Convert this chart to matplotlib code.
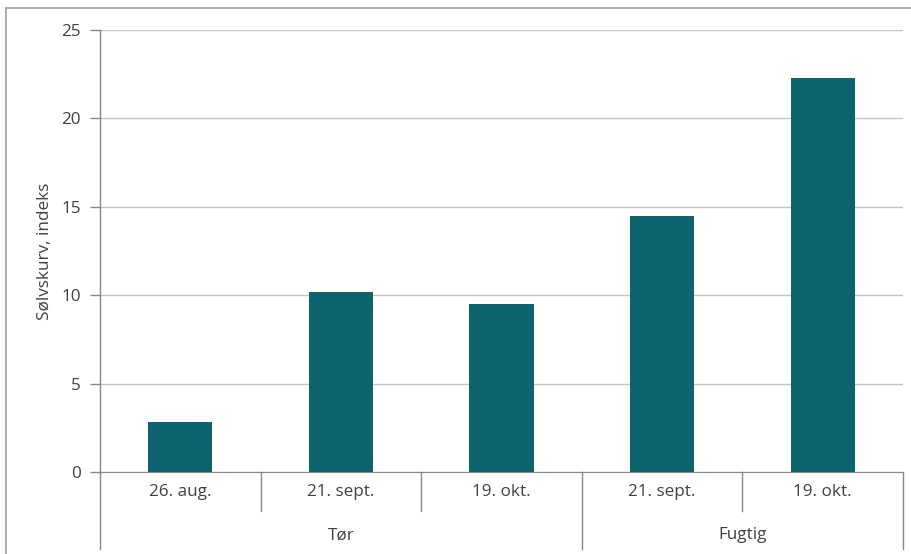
import matplotlib.pyplot as plt
from matplotlib.lines import Line2D

dates = ["26. aug.", "21. sept.", "19. okt.", "21. sept.", "19. okt."]
groups = ["Tør", "Fugtig"]
group_sizes = [3, 2]
values = [2.85, 10.2, 9.5, 14.5, 22.3]

BAR = "#0d646f"
AXIS = "#868686"
GRID = "#c4c4c4"
TEXT = "#404040"
FS = 12.3

plt.rcParams["font.family"] = ["Open Sans", "DejaVu Sans"]

fig = plt.figure(figsize=(9.11, 5.54), dpi=100)
ax = fig.add_axes([100 / 911, 1 - 472 / 554, 803 / 911, 442 / 554])

x = [i + 0.5 for i in range(len(values))]
ax.bar(x, values, width=0.4, color=BAR, zorder=3)

ax.set_xlim(0, len(values))
ax.set_ylim(0, 25)
ax.set_yticks(range(0, 26, 5))
ax.yaxis.grid(True, color=GRID, lw=1, zorder=0)
ax.set_xticks([])
ax.tick_params(axis="y", length=7, width=1, color=AXIS, labelsize=FS,
               labelcolor=TEXT, pad=7)
for s in ["top", "right", "left"]:
    ax.spines[s].set_visible(False)
ax.spines["bottom"].set_color(AXIS)
ax.set_ylabel("Sølvskurv, indeks", fontsize=FS, color=TEXT, labelpad=6)

# two-level category axis
tr = ax.get_xaxis_transform()
edges = [0]
for n in group_sizes:
    edges.append(edges[-1] + n)
for i in range(len(values) + 1):
    low = -0.174 if i in edges else -0.088
    ax.add_artist(Line2D([i, i], [1.0 if i == 0 else 0, low], transform=tr,
                         color=AXIS, lw=1, clip_on=False))
for xi, d in zip(x, dates):
    ax.text(xi, -0.045, d, transform=tr, ha="center", va="center",
            fontsize=FS, color=TEXT)
for g, a, b in zip(groups, edges[:-1], edges[1:]):
    ax.text((a + b) / 2, -0.143, g, transform=tr, ha="center", va="center",
            fontsize=FS, color=TEXT)

# chart frame
fig.add_artist(Line2D([6 / 911, 6 / 911], [0, 1 - 8 / 554], color="#a0a0a0", lw=1.2))
fig.add_artist(Line2D([6 / 911, 1], [1 - 8 / 554, 1 - 8 / 554], color="#a0a0a0", lw=1.2))

fig.savefig("out.png", dpi=100)
